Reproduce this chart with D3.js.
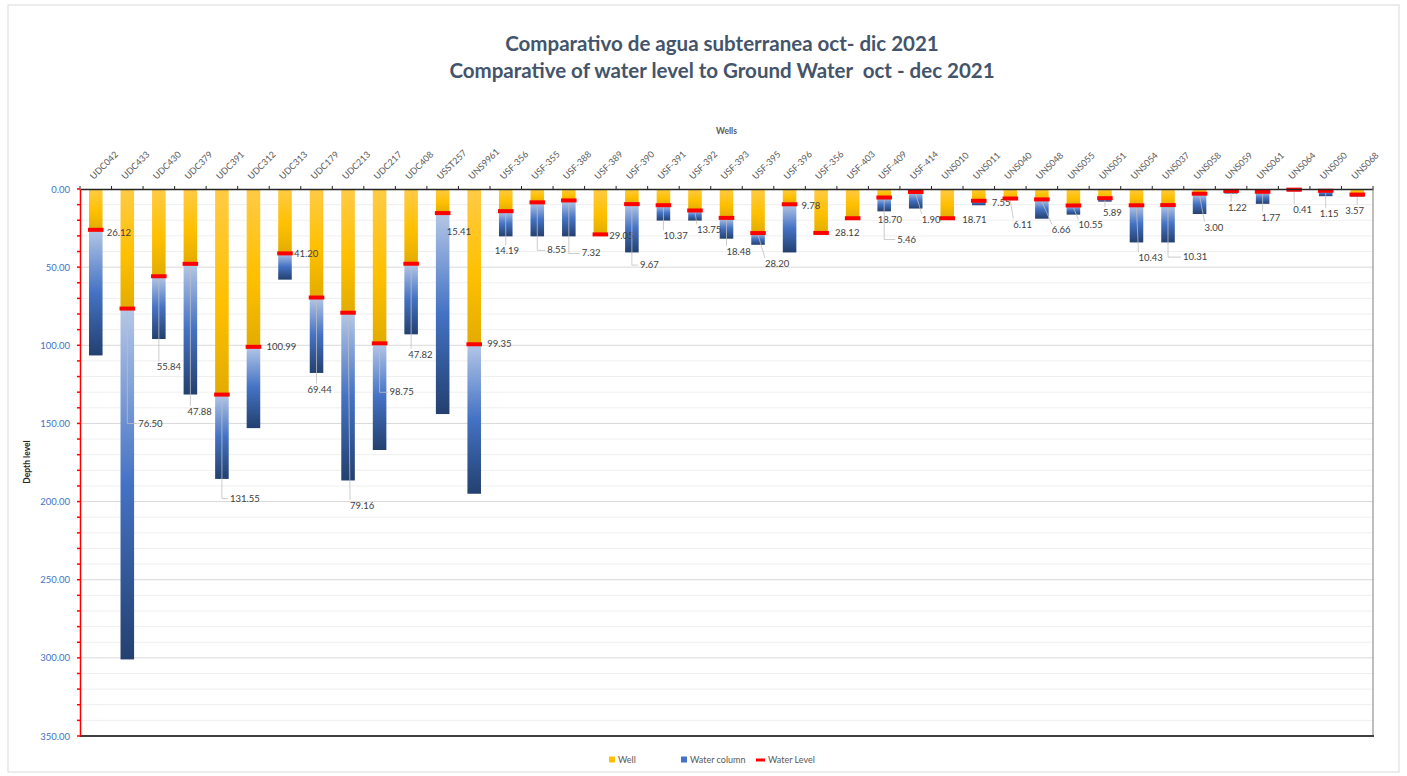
<!DOCTYPE html>
<html>
<head>
<meta charset="utf-8">
<script src="https://cdn.jsdelivr.net/npm/d3@7"></script>
<style>
  body { margin: 0; background: #fff; }
  text { font-family: Lato, "Open Sans", sans-serif; white-space: pre; }
</style>
</head>
<body>
<div class="chart"></div>
<script>
// chart data

var wells = ["UDC042","UDC433","UDC430","UDC379","UDC391","UDC312","UDC313","UDC179","UDC213","UDC217","UDC408","USST257","UNS9961",
    "USF-356","USF-355","USF-388","USF-389","USF-390","USF-391","USF-392","USF-393","USF-395","USF-396","USF-356","USF-403","USF-409","USF-414",
    "UNS010","UNS011","UNS040","UNS048","UNS055","UNS051","UNS054","UNS037","UNS058","UNS059","UNS061","UNS064","UNS050","UNS068"];

// depth to water (m) = "Well" part and the "Water Level" marker
var waterLevel = [26.12, 76.50, 55.84, 47.88, 131.55, 100.99, 41.20, 69.44, 79.16, 98.75, 47.82, 15.41, 99.35,
    14.19, 8.55, 7.32, 29.05, 9.67, 10.37, 13.75, 18.48, 28.20, 9.78, 28.12, 18.70, 5.46, 1.90,
    18.71, 7.55, 6.11, 6.66, 10.55, 5.89, 10.43, 10.31, 3.00, 1.22, 1.77, 0.41, 1.15, 3.57];

// total well depth (m)
var totalDepth = [106.5, 301, 96, 131.5, 185.5, 153, 58, 117.7, 186.5, 167, 93, 144, 195,
    30.3, 30.3, 30.3, 29.6, 40.6, 20.2, 20.2, 31.8, 35.7, 40.6, 28.8, 19.2, 14.3, 12.5,
    19.2, 10.4, 6.5, 19, 16.4, 8.1, 34.2, 34.2, 16, 2.9, 9.5, 1.5, 4.6, 4.8];

var yTicks = [0, 50, 100, 150, 200, 250, 300, 350];

// label nudges in px [dx, dy] from the water level point (layout only)
var labelNudge = [[11,6],[11,118],[-2,94],[-3,151],[8,107],[13,3],[9,4],[-9,95],[2,196],[10,52],[-3,94],[4,22],[13,3],
    [-11,43],[10,51],[13,56],[9,5],[8,64],[0,34],[2,23],[0,37],[7,34],[12,5],[14,3],[25,5],[13,45],[6,31],
    [15,5],[13,5],[3,29],[10,34],[5,23],[-2,18],[2,56],[15,55],[5,37],[-3,20],[-1,29],[-1,23],[-6,26],[-12,19]];

//define chart area

var svgWidth = 1407;
var svgHeight = 776;

var plot = { left: 80, right: 1373, top: 189, bottom: 736 };

var svg = d3.select(".chart")
    .append("svg")
    .attr("width", svgWidth)
    .attr("height", svgHeight);

var defs = svg.append("defs");

var gY = defs.append("linearGradient").attr("id", "gradWell").attr("x1", 0).attr("y1", 0).attr("x2", 0).attr("y2", 1);
gY.append("stop").attr("offset", "0%").attr("stop-color", "#FFCB45");
gY.append("stop").attr("offset", "55%").attr("stop-color", "#FFC000");
gY.append("stop").attr("offset", "100%").attr("stop-color", "#E2AC00");

var gB = defs.append("linearGradient").attr("id", "gradColumn").attr("x1", 0).attr("y1", 0).attr("x2", 0).attr("y2", 1);
gB.append("stop").attr("offset", "0%").attr("stop-color", "#B4C7E7");
gB.append("stop").attr("offset", "50%").attr("stop-color", "#4472C4");
gB.append("stop").attr("offset", "100%").attr("stop-color", "#23406F");

// outer border
svg.append("rect")
    .attr("x", 8).attr("y", 5)
    .attr("width", 1391).attr("height", 767)
    .attr("fill", "none")
    .attr("stroke", "#d9d9d9");

// titles
svg.append("text")
    .attr("x", 722).attr("y", 51)
    .attr("text-anchor", "middle")
    .attr("font-size", 20.5).attr("font-weight", "bold")
    .attr("fill", "#44546A")
    .text("Comparativo de agua subterranea oct- dic 2021");

svg.append("text")
    .attr("x", 722).attr("y", 78)
    .attr("text-anchor", "middle")
    .attr("font-size", 20.5).attr("font-weight", "bold")
    .attr("fill", "#44546A")
    .text("Comparative of water level to Ground Water  oct - dec 2021");

// scales (index based, two wells share a name)
var idx = d3.range(wells.length);

var xBand = d3.scaleBand()
    .domain(idx)
    .range([plot.left, plot.right])
    .paddingInner(0.57)
    .paddingOuter(0.285);

var yLinear = d3.scaleLinear()
    .domain([0, 350])
    .range([plot.top, plot.bottom]);

// gridlines every 10
var grid = svg.append("g");
grid.selectAll("line")
    .data(d3.range(10, 350, 10))
    .enter()
    .append("line")
    .attr("x1", plot.left).attr("x2", plot.right)
    .attr("y1", d => yLinear(d)).attr("y2", d => yLinear(d))
    .attr("stroke", d => d % 50 === 0 ? "#d9d9d9" : "#efefef")
    .attr("stroke-width", 1);

// stacked data
var rows = wells.map((w, i) => ({
    i: i,
    well: w,
    wellPart: waterLevel[i],
    column: Math.max(0, totalDepth[i] - waterLevel[i]),
    level: waterLevel[i]
}));

var stack = d3.stack().keys(["wellPart", "column"]);
var series = stack(rows);
var fills = { wellPart: "url(#gradWell)", column: "url(#gradColumn)" };

var barsGroup = svg.append("g");
barsGroup.selectAll("g")
    .data(series)
    .enter()
    .append("g")
    .attr("fill", s => fills[s.key])
    .selectAll("rect")
    .data(s => s)
    .enter()
    .append("rect")
    .attr("x", d => xBand(d.data.i))
    .attr("width", xBand.bandwidth())
    .attr("y", d => yLinear(d[0]))
    .attr("height", d => yLinear(d[1]) - yLinear(d[0]));

// leader lines + labels
var labelGroup = svg.append("g");
rows.forEach((d, i) => {
    var cx = xBand(d.i) + xBand.bandwidth() / 2;
    var cy = yLinear(d.level);
    var lx = cx + labelNudge[i][0];
    var ly = cy + labelNudge[i][1];
    var txt = d.level.toFixed(2);
    var tw = txt.length * 5.2;
    var dy = labelNudge[i][1];

    if (dy > 40 && lx > cx + 6) {
        labelGroup.append("polyline")
            .attr("points", `${cx},${cy + 2} ${cx},${ly - 3} ${lx - 2},${ly - 3}`)
            .attr("fill", "none")
            .attr("stroke", "#bfbfbf")
            .attr("stroke-width", 0.8);
    } else if (dy > 12) {
        labelGroup.append("line")
            .attr("x1", cx).attr("y1", cy + 2)
            .attr("x2", Math.max(lx, Math.min(cx, lx + tw))).attr("y2", ly - 9)
            .attr("stroke", "#bfbfbf")
            .attr("stroke-width", 0.8);
    }

    labelGroup.append("text")
        .attr("x", lx).attr("y", ly)
        .attr("font-size", 9.5)
        .attr("fill", "#404040")
        .text(txt);
});

// water level markers
svg.append("g").selectAll("rect")
    .data(rows)
    .enter()
    .append("rect")
    .attr("x", d => xBand(d.i) - 1)
    .attr("width", xBand.bandwidth() + 2)
    .attr("y", d => yLinear(d.level) - 2)
    .attr("height", 4)
    .attr("fill", "#FF0000");

// top category axis
var topAxis = d3.axisTop(xBand).tickSize(0).tickPadding(0).tickFormat(i => wells[i]);
var xAxis = svg.append("g")
    .attr("transform", `translate(0, ${plot.top})`)
    .call(topAxis);
xAxis.select(".domain").attr("stroke", "#262626").attr("stroke-width", 1.5);
xAxis.selectAll("text")
    .attr("y", 0).attr("dy", 0)
    .attr("text-anchor", "start")
    .attr("transform", "translate(-2,-9) rotate(-45)")
    .attr("font-size", 9)
    .attr("font-family", "Lato, sans-serif")
    .attr("fill", "#595959");

svg.append("g").selectAll("line")
    .data(d3.range(0, wells.length + 1))
    .enter()
    .append("line")
    .attr("x1", i => plot.left + i * xBand.step())
    .attr("x2", i => plot.left + i * xBand.step())
    .attr("y1", plot.top).attr("y2", plot.top - 3)
    .attr("stroke", "#262626");

svg.append("text")
    .attr("x", (plot.left + plot.right) / 2).attr("y", 134)
    .attr("text-anchor", "middle")
    .attr("font-size", 8.5).attr("font-weight", "bold")
    .attr("fill", "#595959")
    .text("Wells");

// right and bottom frame
svg.append("line")
    .attr("x1", plot.right).attr("x2", plot.right)
    .attr("y1", plot.top).attr("y2", plot.bottom)
    .attr("stroke", "#7f7f7f");
svg.append("line")
    .attr("x1", plot.left).attr("x2", plot.right + 1)
    .attr("y1", plot.bottom).attr("y2", plot.bottom)
    .attr("stroke", "#404040").attr("stroke-width", 2);

// left axis (red)
var leftAxis = d3.axisLeft(yLinear)
    .tickValues(yTicks)
    .tickFormat(d3.format(".2f"))
    .tickSize(0)
    .tickPadding(10);
var yAxis = svg.append("g")
    .attr("transform", `translate(${plot.left}, 0)`)
    .call(leftAxis);
yAxis.select(".domain").attr("stroke", "#FF0000").attr("stroke-width", 1.5);
yAxis.selectAll("text")
    .attr("font-size", 9.5)
    .attr("font-family", "Lato, sans-serif")
    .attr("fill", "#4472C4");

yAxis.append("g").selectAll("line")
    .data(d3.range(0, 360, 10))
    .enter()
    .append("line")
    .attr("x1", -3).attr("x2", 0)
    .attr("y1", d => yLinear(d)).attr("y2", d => yLinear(d))
    .attr("stroke", "#FF0000").attr("stroke-width", 1.5);

svg.append("text")
    .attr("transform", `translate(30, 462) rotate(-90)`)
    .attr("text-anchor", "middle")
    .attr("font-size", 8.5).attr("font-weight", "bold")
    .attr("fill", "#262626")
    .text("Depth level");

// legend
var legendItems = [
    { name: "Well", color: "#FFC000", type: "box" },
    { name: "Water column", color: "#4472C4", type: "box" },
    { name: "Water Level", color: "#FF0000", type: "line" }
];
var legendX = [609, 681, 756];
var legend = svg.append("g").attr("transform", "translate(0, 760)");
legendItems.forEach((item, i) => {
    if (item.type === "box") {
        legend.append("rect")
            .attr("x", legendX[i]).attr("y", -3.5)
            .attr("width", 6).attr("height", 6)
            .attr("fill", item.color);
    } else {
        legend.append("rect")
            .attr("x", legendX[i]).attr("y", -1.5)
            .attr("width", 9).attr("height", 3)
            .attr("fill", item.color);
    }
    legend.append("text")
        .attr("x", legendX[i] + (item.type === "box" ? 9 : 12))
        .attr("y", 3)
        .attr("font-size", 9)
        .attr("fill", "#595959")
        .text(item.name);
});
</script>
</body>
</html>
